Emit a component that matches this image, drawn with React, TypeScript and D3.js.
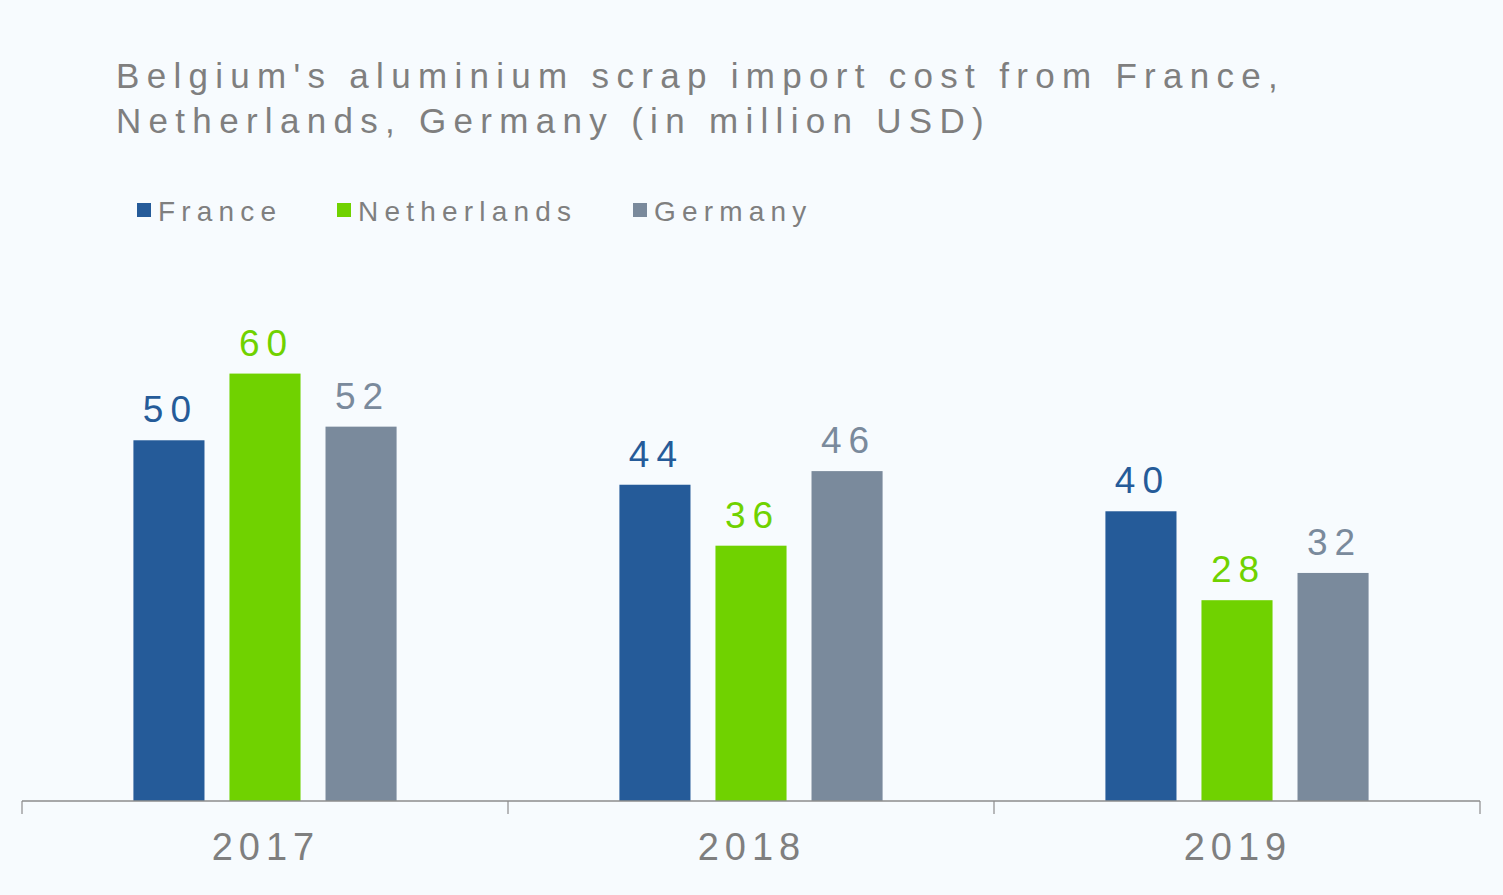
import React from "react";
import * as d3 from "d3";

// Chart data
const years = ["2017", "2018", "2019"];
const seriesNames = ["France", "Netherlands", "Germany"];
const france = [50.3, 44.1, 40.4];
const netherlands = [59.6, 35.6, 28.0];
const germany = [52.2, 46.0, 31.8];
const labels = [
    ["50", "60", "52"],
    ["44", "36", "46"],
    ["40", "28", "32"],
];
const titleLines = [
    "Belgium's aluminium scrap import cost from France,",
    "Netherlands, Germany (in million USD)",
];

const COLORS: Record<string, string> = {
    France: "#255b99",
    Netherlands: "#70d200",
    Germany: "#7a8a9c",
};

const WIDTH = 1503;
const HEIGHT = 895;
const FONT = "'Liberation Sans', Arial, sans-serif";

const App: React.FC = () => {
    const values: Record<string, number[]> = {
        France: france,
        Netherlands: netherlands,
        Germany: germany,
    };

    const x = d3.scaleBand<string>().domain(years).range([22, 1480]).padding(0);
    const xInner = d3
        .scaleBand<string>()
        .domain(seriesNames)
        .range([0, x.bandwidth()])
        .paddingInner(0.26)
        .paddingOuter(1.16);
    const y = d3.scaleLinear().domain([0, 70]).range([801, 299]);

    // tick positions at band edges, like a category axis
    const tickXs = years.map(yr => x(yr) as number).concat([x.range()[1]]);

    const legendX = [137, 337, 633];

    return (
        <div style={{ position: "absolute", left: 0, top: 0 }}>
            <svg width={WIDTH} height={HEIGHT} style={{ display: "block", fontFamily: FONT }}>
                <rect x={0} y={0} width={WIDTH} height={HEIGHT} fill="#f7fbfe" />

                {/* Title */}
                {titleLines.map((t, i) => (
                    <text
                        key={t}
                        x={116}
                        y={88 + i * 45}
                        fill="#7f7f7f"
                        style={{ fontSize: "35px", letterSpacing: "7.3px" }}
                    >
                        {t}
                    </text>
                ))}

                {/* Legend */}
                {seriesNames.map((s, i) => (
                    <g key={s}>
                        <rect x={legendX[i]} y={203} width={14} height={14} fill={COLORS[s]} />
                        <text
                            x={legendX[i] + 21}
                            y={221}
                            fill="#7f7f7f"
                            style={{ fontSize: "28px", letterSpacing: "6.2px" }}
                        >
                            {s}
                        </text>
                    </g>
                ))}

                {/* Bars and labels */}
                {years.map((yr, gi) => (
                    <g key={yr} transform={`translate(${x(yr)},0)`}>
                        {seriesNames.map((s, si) => {
                            const v = values[s][gi];
                            const bx = xInner(s) as number;
                            return (
                                <g key={s}>
                                    <rect
                                        x={bx}
                                        y={y(v)}
                                        width={xInner.bandwidth()}
                                        height={y(0) - y(v)}
                                        fill={COLORS[s]}
                                    />
                                    <text
                                        x={bx + xInner.bandwidth() / 2 + 1.5}
                                        y={y(v) - 18}
                                        textAnchor="middle"
                                        fill={COLORS[s]}
                                        style={{ fontSize: "37px", letterSpacing: "7px" }}
                                    >
                                        {labels[gi][si]}
                                    </text>
                                </g>
                            );
                        })}
                    </g>
                ))}

                {/* X axis */}
                <line x1={x.range()[0]} x2={x.range()[1]} y1={y(0)} y2={y(0)} stroke="#8c8c8c" strokeWidth={1.5} />
                {tickXs.map((tx, i) => (
                    <line key={i} x1={tx} x2={tx} y1={y(0)} y2={y(0) + 13} stroke="#8c8c8c" strokeWidth={1.2} />
                ))}
                {years.map(yr => (
                    <text
                        key={yr}
                        x={(x(yr) as number) + x.bandwidth() / 2 + 1}
                        y={860}
                        textAnchor="middle"
                        fill="#7f7f7f"
                        style={{ fontSize: "38px", letterSpacing: "6px" }}
                    >
                        {yr}
                    </text>
                ))}
            </svg>
        </div>
    );
};

export default App;
